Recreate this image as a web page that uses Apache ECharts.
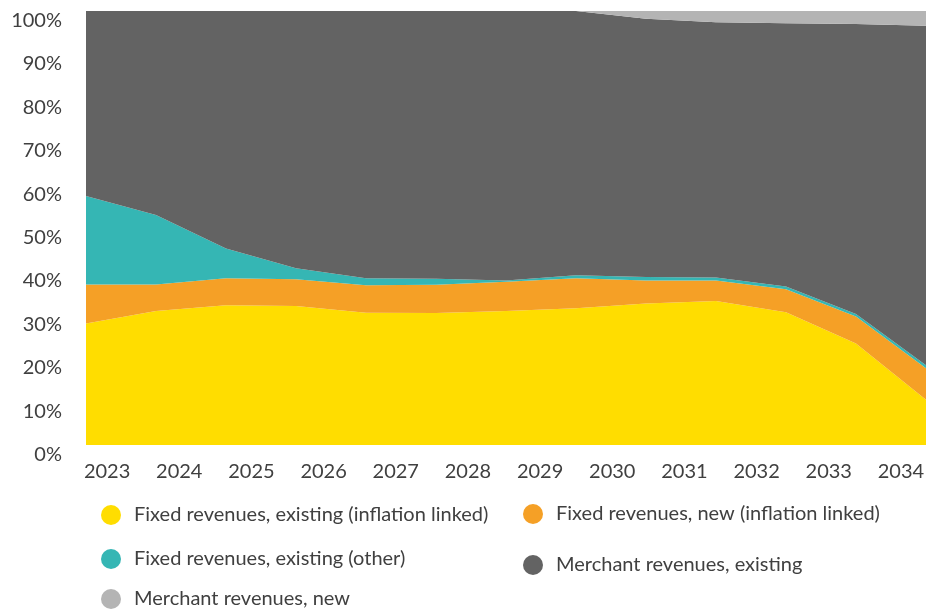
<!DOCTYPE html>
<html>
<head>
<meta charset="utf-8">
<script src="https://cdn.jsdelivr.net/npm/echarts@6/dist/echarts.min.js"></script>
<style>
  html, body { margin: 0; padding: 0; background: #ffffff; }
  #chart { width: 938px; height: 615px; }
</style>
</head>
<body>
<div id="chart"></div>
<script>
// Year labels shown under the chart
const years = ['2023', '2024', '2025', '2026', '2027', '2028', '2029', '2030', '2031', '2032', '2033', '2034'];
// Data points along the horizontal axis (13 steps)
const steps = ['0', '1', '2', '3', '4', '5', '6', '7', '8', '9', '10', '11', '12'];

// Revenue shares, % of total
const fixedExistingInflation = [28.0, 30.9, 32.2, 32.0, 30.5, 30.4, 30.9, 31.5, 32.6, 33.2, 30.6, 23.4, 10.4];
const fixedNewInflation      = [9.0, 6.1, 6.2, 6.2, 6.3, 6.5, 6.7, 6.9, 5.3, 4.7, 5.3, 6.2, 7.3];
const fixedExistingOther     = [20.4, 16.0, 6.9, 2.5, 1.6, 1.4, 0.3, 0.7, 0.8, 0.7, 0.6, 0.6, 0.7];
const merchantExisting       = [42.6, 47.0, 54.7, 59.3, 61.6, 61.7, 62.1, 60.9, 59.5, 58.8, 60.7, 66.8, 78.2];
const merchantNew            = [0, 0, 0, 0, 0, 0, 0, 0, 1.8, 2.6, 2.8, 3.0, 3.4];

const yTicks = [0, 10, 20, 30, 40, 50, 60, 70, 80, 90, 100];

const seriesDefs = [
  { name: 'Fixed revenues, existing (inflation linked)', data: fixedExistingInflation, color: '#FFDD00' },
  { name: 'Fixed revenues, new (inflation linked)',      data: fixedNewInflation,      color: '#F5A026' },
  { name: 'Fixed revenues, existing (other)',            data: fixedExistingOther,     color: '#35B6B4' },
  { name: 'Merchant revenues, existing',                 data: merchantExisting,       color: '#636363' },
  { name: 'Merchant revenues, new',                      data: merchantNew,            color: '#B4B4B4' }
];

const textColor = '#404040';
const font = 'Lato';

// One legend block per entry so each can sit at its own spot
const legendSpots = [
  { left: 101, top: 505 },
  { left: 523, top: 504 },
  { left: 101, top: 549 },
  { left: 523, top: 555 },
  { left: 101, top: 589 }
];

const chart = echarts.init(document.getElementById('chart'), null, { renderer: 'canvas' });

chart.setOption({
  animation: false,
  backgroundColor: '#ffffff',
  textStyle: { fontFamily: font },
  grid: [
    { left: 86, right: 12, top: 11, bottom: 170, containLabel: false, outerBoundsMode: 'none' },
    { left: 71, width: 866, top: 11, bottom: 170, containLabel: false, outerBoundsMode: 'none' }
  ],
  xAxis: [
    {
      type: 'category', gridIndex: 0, data: steps, boundaryGap: false,
      axisLine: { show: false }, axisTick: { show: false }, axisLabel: { show: false },
      splitLine: { show: false }
    },
    {
      type: 'category', gridIndex: 1, data: years, boundaryGap: true,
      axisLine: { show: false }, axisTick: { show: false }, splitLine: { show: false },
      axisLabel: {
        color: textColor, fontFamily: font, fontSize: 20, lineHeight: 20,
        margin: 17, interval: 0
      }
    }
  ],
  yAxis: [
    {
      type: 'value', gridIndex: 0, min: yTicks[0], max: yTicks[yTicks.length - 1], interval: 10,
      axisLine: { show: false }, axisTick: { show: false }, splitLine: { show: false },
      axisLabel: {
        color: textColor, fontFamily: font, fontSize: 20, lineHeight: 19,
        verticalAlign: 'top', margin: 24,
        formatter: v => v + '%'
      }
    },
    {
      type: 'value', gridIndex: 1, min: 0, max: 100, show: false
    }
  ],
  legend: seriesDefs.map((s, i) => ({
    data: [s.name],
    left: legendSpots[i].left,
    top: legendSpots[i].top,
    padding: 0,
    icon: 'circle',
    itemWidth: 20,
    itemHeight: 20,
    selectedMode: false,
    textStyle: { color: textColor, fontFamily: font, fontSize: 20, padding: [0, 0, 0, 8] }
  })),
  series: seriesDefs.map(s => ({
    name: s.name,
    type: 'line',
    xAxisIndex: 0,
    yAxisIndex: 0,
    stack: 'share',
    data: s.data,
    showSymbol: false,
    symbol: 'none',
    lineStyle: { width: 0, color: s.color },
    itemStyle: { color: s.color },
    areaStyle: { color: s.color, opacity: 1 },
    emphasis: { disabled: true }
  }))
});
</script>
</body>
</html>
